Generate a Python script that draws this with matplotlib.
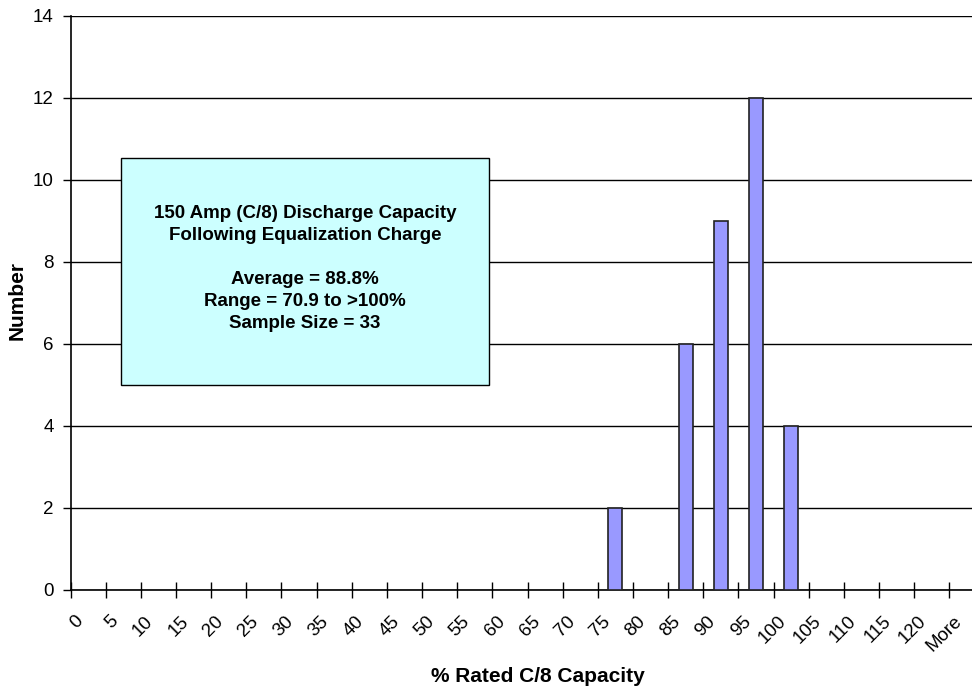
import matplotlib
matplotlib.use('Agg')
import matplotlib.pyplot as plt
from matplotlib.patches import Rectangle

# histogram bins (% of rated C/8 capacity) and battery counts per bin
bins = ['0', '5', '10', '15', '20', '25', '30', '35', '40', '45', '50', '55', '60',
        '65', '70', '75', '80', '85', '90', '95', '100', '105', '110', '115', '120', 'More']
counts = [0, 0, 0, 0, 0, 0, 0, 0, 0, 0, 0, 0, 0,
          0, 0, 2, 0, 6, 9, 12, 4, 0, 0, 0, 0, 0]
y_ticks = [0, 2, 4, 6, 8, 10, 12, 14]

box_lines = ['150 Amp (C/8) Discharge Capacity',
             'Following Equalization Charge',
             '',
             'Average = 88.8%',
             'Range = 70.9 to >100%',
             'Sample Size = 33']


def main() -> None:
    plt.rcParams['font.family'] = ['Liberation Sans', 'DejaVu Sans']
    fig = plt.figure(figsize=(9.72, 6.87), dpi=100)
    # plot area runs a little past the right edge of the figure
    ax = fig.add_axes([70.5 / 972, 1 - 589.7 / 687, 914 / 972, 574 / 687])

    x = list(range(len(bins)))
    ax.bar(x, counts, width=0.4, color='#9999FF', edgecolor='#222222', linewidth=1.2, zorder=3)

    ax.set_xlim(-0.5, len(bins) - 0.5)
    ax.set_ylim(0, 14)
    ax.set_yticks(y_ticks)
    ax.set_yticklabels([str(v) for v in y_ticks], fontsize=13.5)
    ax.tick_params(axis='y', direction='out', length=6, width=1, pad=6)
    ax.yaxis.grid(True, color='black', linewidth=1)
    ax.set_axisbelow(True)

    # ticks sit on the bin boundaries, labels near the middle of each bin
    ax.set_xticks([i - 0.5 for i in range(len(bins) + 1)])
    ax.set_xticklabels([])
    ax.tick_params(axis='x', direction='inout', length=11, width=1)
    ax.set_xticks([i - 0.22 for i in x], minor=True)
    ax.set_xticklabels(bins, minor=True, rotation=45, ha='right', va='center',
                       rotation_mode='anchor', fontsize=13.5)
    ax.tick_params(axis='x', which='minor', length=0, pad=21)

    for side in ['top', 'right']:
        ax.spines[side].set_visible(False)
    ax.spines['left'].set_linewidth(1.2)
    ax.spines['bottom'].set_linewidth(1.2)

    fig.text(17.5 / 972, 1 - 300 / 687, 'Number', rotation=90, fontsize=15,
             fontweight='bold', ha='center', va='center')
    fig.text(538 / 972, 1 - 676 / 687, '% Rated C/8 Capacity', fontsize=15,
             fontweight='bold', ha='center', va='center')

    # annotation box with summary statistics
    bx0, bx1 = (121 - 70.5) / 914, (489 - 70.5) / 914
    by0, by1 = (589.7 - 385) / 574, (589.7 - 158) / 574
    ax.add_patch(Rectangle((bx0, by0), bx1 - bx0, by1 - by0, transform=ax.transAxes,
                           facecolor='#CCFFFF', edgecolor='black', linewidth=1, zorder=4))
    ax.text((bx0 + bx1) / 2, 1 - (268.5 - 15.7) / 574, '\n'.join(box_lines),
            transform=ax.transAxes, ha='center', va='center', fontsize=13.5,
            fontweight='bold', linespacing=1.38, zorder=5)

    fig.savefig('out.png', dpi=100)


if __name__ == '__main__':
    main()
